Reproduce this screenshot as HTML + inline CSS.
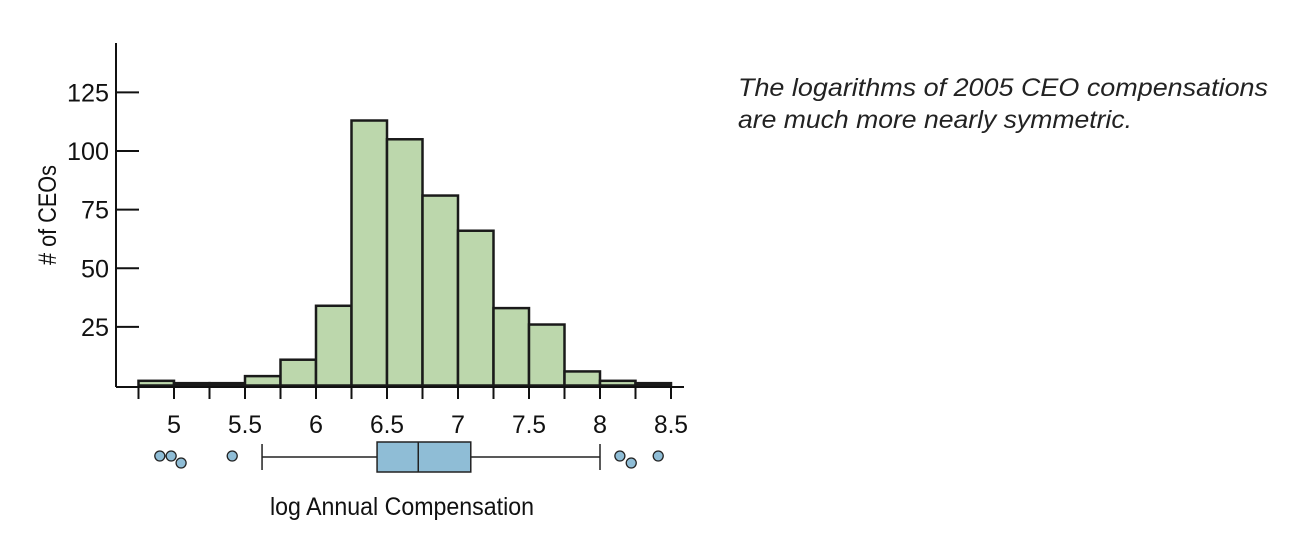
<!DOCTYPE html>
<html><head><meta charset="utf-8"><style>
html,body{margin:0;padding:0;background:#fff;}
svg{display:block;font-family:"Liberation Sans Narrow","Liberation Sans",sans-serif;}
</style></head><body>
<svg id="chart" width="1294" height="550" viewBox="0 0 1294 550" xmlns="http://www.w3.org/2000/svg">
<g id="bars"></g>
<g id="axes"></g>
<g id="box"></g>
<text x="402" y="515" font-size="25" text-anchor="middle" textLength="264" lengthAdjust="spacingAndGlyphs" fill="#111">log Annual Compensation</text>
<text transform="translate(56,215) rotate(-90)" font-size="25" text-anchor="middle" textLength="100" lengthAdjust="spacingAndGlyphs" fill="#111"># of CEOs</text>
<text x="738" y="96" font-size="25" font-style="italic" font-family="Liberation Sans, sans-serif" textLength="530" lengthAdjust="spacingAndGlyphs" fill="#222">The logarithms of 2005 CEO compensations</text>
<text x="738" y="128" font-size="25" font-style="italic" font-family="Liberation Sans, sans-serif" textLength="394" lengthAdjust="spacingAndGlyphs" fill="#222">are much more nearly symmetric.</text>
</svg>
<script>
const binStarts = [4.75,5.0,5.25,5.5,5.75,6.0,6.25,6.5,6.75,7.0,7.25,7.5,7.75,8.0,8.25];
const counts = [2,1,1,4,11,34,113,105,81,66,33,26,6,2,1];
const binWidth = 0.25;
const yTicks = [25,50,75,100,125];
const xTicks = [5,5.5,6,6.5,7,7.5,8,8.5];
const boxStats = [5.62,6.43,6.72,7.09,8.0]; // whiskerLo, q1, median, q3, whiskerHi
const outliers = [4.9,4.98,5.05,5.41,8.14,8.22,8.41];
const outlierRow = [0,0,1,0,0,1,0];

const NS="http://www.w3.org/2000/svg";
const xs = v => 174 + (v-5)*142;
const ys = v => 385.5 - v*2.345;
function mk(tag, attrs, parent){const e=document.createElementNS(NS,tag);for(const k in attrs)e.setAttribute(k,attrs[k]);parent.appendChild(e);return e;}
const bars=document.getElementById('bars'), axes=document.getElementById('axes'), box=document.getElementById('box');
binStarts.forEach((b,i)=>{
  const x0=xs(b), x1=xs(b+binWidth), y=ys(counts[i]);
  const r=mk('rect',{x:x0,y:y,width:x1-x0,height:385.5-y,fill:'#bcd7ac',stroke:'#1a1a1a','stroke-width':2.5},bars);
  
  
});
const yl=mk('line',{x1:116,y1:43,x2:116,y2:387,stroke:'#111','stroke-width':2},axes);


const xl=mk('line',{x1:116,y1:387,x2:684,y2:387,stroke:'#111','stroke-width':2},axes);


yTicks.forEach(t=>{
  const l=mk('line',{x1:116,x2:139,y1:ys(t),y2:ys(t),stroke:'#111','stroke-width':2},axes);
  
  
  const s=String(t);
  const tx=mk('text',{x:109,y:ys(t)+9,'font-size':25,'text-anchor':'end',fill:'#111',textLength:s.length*14,lengthAdjust:'spacingAndGlyphs'},axes);
  tx.textContent=s;
  
  
});
for(let v=4.75;v<=8.5001;v+=0.25){
  const l=mk('line',{x1:xs(v),x2:xs(v),y1:387,y2:399,stroke:'#111','stroke-width':2},axes);
  
  
}
xTicks.forEach(t=>{
  const s=String(t);
  const w=s.replace('.','').length*14+(s.includes('.')?6:0);
  const tx=mk('text',{x:xs(t),y:433,'font-size':25,'text-anchor':'middle',fill:'#111',textLength:w,lengthAdjust:'spacingAndGlyphs'},axes);
  tx.textContent=s;
  
  
});
const by=457;
const w=mk('line',{x1:xs(boxStats[0]),x2:xs(boxStats[4]),y1:by,y2:by,stroke:'#222','stroke-width':1.5},box);


[boxStats[0],boxStats[4]].forEach(v=>{
  const c=mk('line',{x1:xs(v),x2:xs(v),y1:444,y2:470,stroke:'#222','stroke-width':1.5},box);
  
  
});
const br=mk('rect',{x:xs(boxStats[1]),y:442,width:xs(boxStats[3])-xs(boxStats[1]),height:30,fill:'#8fbdd6',stroke:'#222','stroke-width':1.5},box);


const md=mk('line',{x1:xs(boxStats[2]),x2:xs(boxStats[2]),y1:442,y2:472,stroke:'#222','stroke-width':1.5},box);


outliers.forEach((v,i)=>{
  const c=mk('circle',{cx:xs(v),cy:456+outlierRow[i]*7,r:5,fill:'#8fbdd6',stroke:'#222','stroke-width':1.3},box);
  
  
});
</script>
</body></html>
